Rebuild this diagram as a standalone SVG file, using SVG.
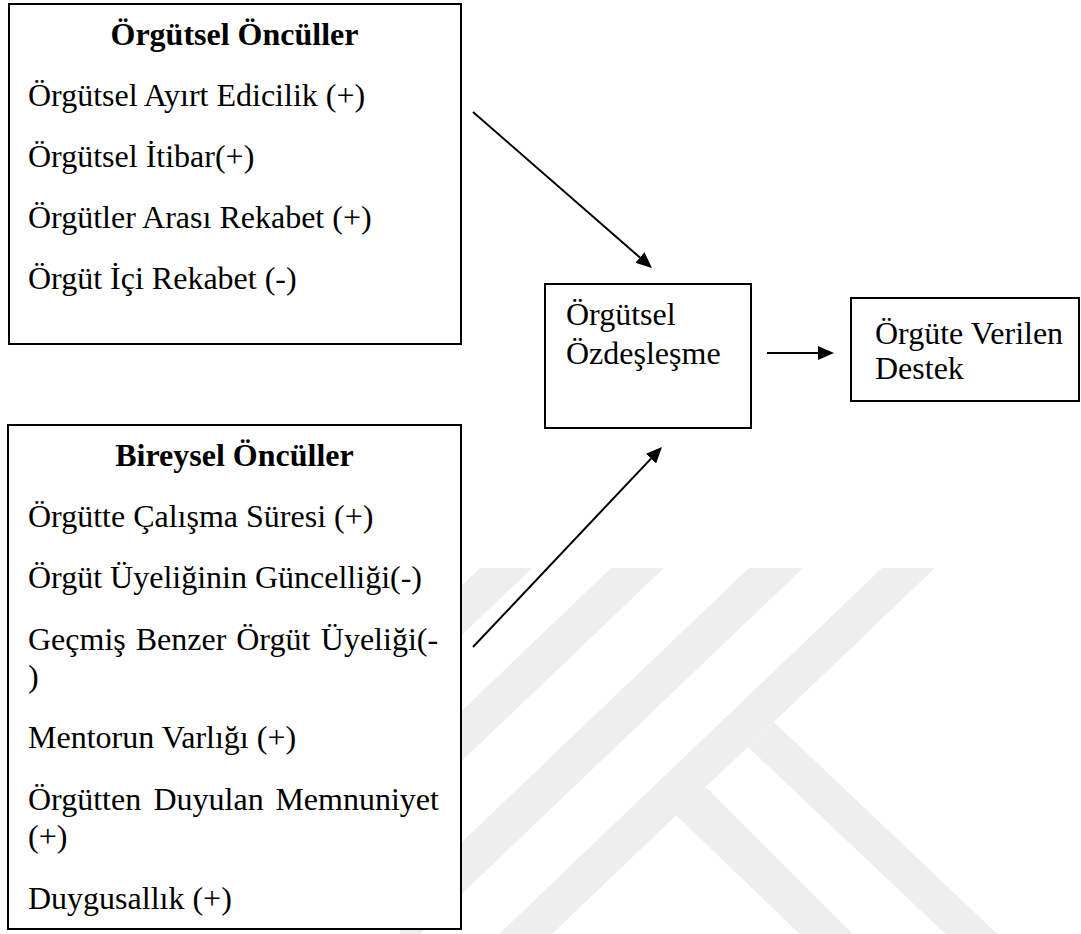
<svg xmlns="http://www.w3.org/2000/svg" width="1081" height="934" viewBox="0 0 1081 934">
<defs>
<style>
.box{fill:#ffffff;stroke:#000000;stroke-width:2}
.t{font-family:"Liberation Serif","Times New Roman",serif;font-size:32px;fill:#000000}
.b{font-weight:bold}
.wm{fill:#eeeeee}
.conn{stroke:#000000;stroke-width:2;fill:none}
</style>
<marker id="ah" markerUnits="userSpaceOnUse" markerWidth="16" markerHeight="14" viewBox="0 0 16 14" refX="0" refY="7" orient="auto">
<path d="M0,0 L16,7 L0,14 z" fill="#000000"/>
</marker>
</defs>
<rect x="0" y="0" width="1081" height="934" fill="#ffffff"/>
<g id="watermark">
<polygon class="wm" points="480,568 532,568 400,694 400,645"/>
<polygon class="wm" points="611,568 664,568 400,820 400,770"/>
<polygon class="wm" points="749,568 803,568 400,953 400,901"/>
<polygon class="wm" points="882,568 935,568 552,934 499,934"/>
<polygon class="wm" points="774,722 1010,946 958,946 748,747"/>
<polygon class="wm" points="706,787 865,946 812,946 676,815"/>
</g>
<g id="orgutsel-onculler">
<rect class="box" x="9" y="4" width="452" height="340"/>
<text class="t b" x="234.5" y="45" text-anchor="middle">Örgütsel Öncüller</text>
<text class="t" x="28" y="106">Örgütsel Ayırt Edicilik (+)</text>
<text class="t" x="28" y="167">Örgütsel İtibar(+)</text>
<text class="t" x="28" y="228">Örgütler Arası Rekabet (+)</text>
<text class="t" x="28" y="289">Örgüt İçi Rekabet (-)</text>
</g>
<g id="bireysel-onculler">
<rect class="box" x="8" y="425" width="453" height="504"/>
<text class="t b" x="234.5" y="466" text-anchor="middle">Bireysel Öncüller</text>
<text class="t" x="28" y="527">Örgütte Çalışma Süresi (+)</text>
<text class="t" x="28" y="588">Örgüt Üyeliğinin Güncelliği(-)</text>
<text class="t" y="650"><tspan x="28">Geçmiş</tspan><tspan x="135.7">Benzer</tspan><tspan x="236.2">Örgüt</tspan><tspan x="320.8">Üyeliği(-</tspan></text>
<text class="t" x="28" y="687">)</text>
<text class="t" x="28" y="748">Mentorun Varlığı (+)</text>
<text class="t" y="810"><tspan x="28">Örgütten</tspan><tspan x="153.5">Duyulan</tspan><tspan x="275.4">Memnuniyet</tspan></text>
<text class="t" x="28" y="847">(+)</text>
<text class="t" x="28" y="909">Duygusallık (+)</text>
</g>
<g id="orgutsel-ozdeslesme">
<rect class="box" x="545" y="284" width="206" height="144"/>
<text class="t" x="566" y="325">Örgütsel</text>
<text class="t" x="566" y="364">Özdeşleşme</text>
</g>
<g id="orgute-verilen-destek">
<rect class="box" x="851" y="298" width="228" height="103"/>
<text class="t" x="875" y="344">Örgüte Verilen</text>
<text class="t" x="875" y="379">Destek</text>
</g>
<g id="connectors">
<line class="conn" x1="473" y1="112" x2="639.9" y2="257.5" marker-end="url(#ah)"/>
<line class="conn" x1="473" y1="647" x2="651" y2="458.6" marker-end="url(#ah)"/>
<line class="conn" x1="767" y1="353" x2="818" y2="353" marker-end="url(#ah)"/>
</g>
</svg>
